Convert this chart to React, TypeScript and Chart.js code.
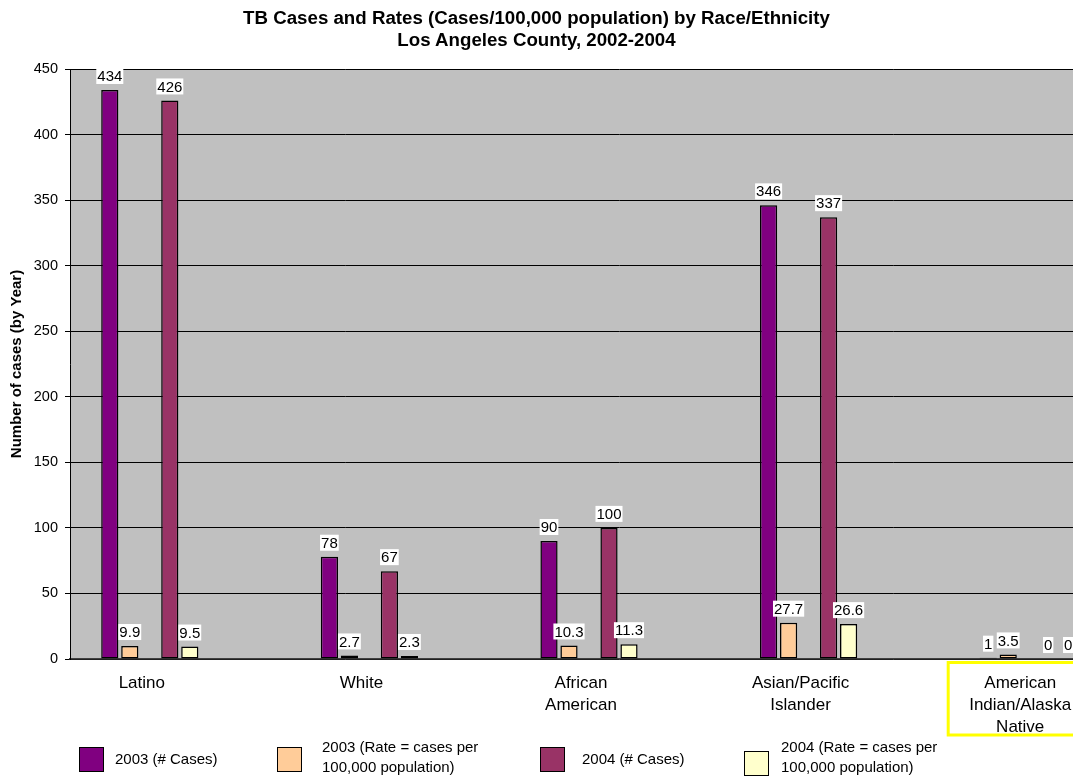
import React, { useEffect, useRef } from 'react';
import { Chart, registerables } from 'chart.js';

Chart.register(...registerables);

// ---------- data ----------
const categories: (string | string[])[] = [
  'Latino',
  'White',
  ['African', 'American'],
  ['Asian/Pacific', 'Islander'],
  ['American', 'Indian/Alaska', 'Native'],
];
const cases2003 = [434, 78, 90, 346, 1];
const rate2003 = [9.9, 2.7, 10.3, 27.7, 3.5];
const cases2004 = [426, 67, 100, 337, 0];
const rate2004 = [9.5, 2.3, 11.3, 26.6, 0];

const yMin = 0;
const yMax = 450;
const yStep = 50;

const seriesNames: string[][] = [
  ['2003 (# Cases)'],
  ['2003 (Rate = cases per', '100,000 population)'],
  ['2004 (# Cases)'],
  ['2004 (Rate = cases per', '100,000 population)'],
];
const seriesColors = ['#800080', '#FFCC99', '#993366', '#FFFFCC'];

const titleLines = [
  'TB Cases and Rates (Cases/100,000 population) by Race/Ethnicity',
  'Los Angeles County, 2002-2004',
];
const yTitle = 'Number of cases (by Year)';

// ---------- layout / style ----------
const FONT = '"Liberation Sans", Arial, Helvetica, sans-serif';
const CANVAS_W = 1168;
const CANVAS_H = 777;
const LABEL_OFFSET = -38;
const legendBoxLeft = [79, 277, 540, 744];
const legendTextLeft = [115, 322, 582, 781];

const emptySlot = categories.map(() => null);

const plotBg = {
  id: 'plotBg',
  beforeDraw(chart: any) {
    const { ctx, chartArea: a } = chart;
    ctx.save();
    ctx.fillStyle = '#C0C0C0';
    ctx.fillRect(a.left, a.top, a.right - a.left, a.bottom - a.top);
    ctx.restore();
  },
};

const valueLabels = {
  id: 'valueLabels',
  afterDatasetsDraw(chart: any) {
    const ctx = chart.ctx;
    ctx.save();
    ctx.font = `15px ${FONT}`;
    ctx.textAlign = 'center';
    ctx.textBaseline = 'middle';
    chart.data.datasets.forEach((ds: any, i: number) => {
      if (ds.spacer) return;
      const meta = chart.getDatasetMeta(i);
      meta.data.forEach((el: any, j: number) => {
        const v = ds.data[j];
        if (v === null || v === undefined) return;
        const txt = String(v);
        const w = ctx.measureText(txt).width;
        const cy = el.y - 14;
        ctx.fillStyle = '#FFFFFF';
        ctx.fillRect(el.x - w / 2 - 1, cy - 8, w + 2, 16);
        ctx.fillStyle = '#000000';
        ctx.fillText(txt, el.x, cy + 1);
      });
    });
    ctx.restore();
  },
};

const highlightLast = {
  id: 'highlightLast',
  afterDraw(chart: any) {
    const xs = chart.scales.x;
    const ctx = chart.ctx;
    const cx = xs.getPixelForTick(categories.length - 1) + LABEL_OFFSET;
    ctx.save();
    ctx.strokeStyle = '#FFFF00';
    ctx.lineWidth = 3;
    ctx.strokeRect(cx - 72, xs.top + 3.5, 146, 72.5);
    ctx.restore();
  },
};

export default function App() {
  const ref = useRef<HTMLCanvasElement | null>(null);

  useEffect(() => {
    if (!ref.current) return;
    const mk = (label: string, data: number[], color: string) => ({
      label,
      data,
      backgroundColor: color,
      borderColor: '#000000',
      borderWidth: 1.5,
      borderSkipped: false,
    });
    const spacer = (n: number) => ({
      label: 'spacer' + n,
      data: emptySlot,
      spacer: true,
      backgroundColor: 'rgba(0,0,0,0)',
    });
    const chart = new Chart(ref.current, {
      type: 'bar',
      data: {
        labels: categories,
        datasets: [
          mk(seriesNames[0].join(' '), cases2003, seriesColors[0]),
          mk(seriesNames[1].join(' '), rate2003, seriesColors[1]),
          spacer(1) as any,
          mk(seriesNames[2].join(' '), cases2004, seriesColors[2]),
          mk(seriesNames[3].join(' '), rate2004, seriesColors[3]),
          spacer(2) as any,
          spacer(3) as any,
          spacer(4) as any,
        ],
      },
      options: {
        animation: false,
        responsive: false,
        maintainAspectRatio: false,
        devicePixelRatio: 1,
        datasets: {
          bar: {
            categoryPercentage: 160 / ((CANVAS_W - 70) / 5),
            barPercentage: 0.86,
          },
        },
        layout: { padding: { top: 69, left: 0, right: 0, bottom: 0 } },
        plugins: {
          legend: { display: false },
          title: { display: false },
          tooltip: { enabled: false },
        },
        scales: {
          x: {
            type: 'category',
            offset: true,
            grid: { display: false, drawTicks: false },
            border: { display: true, color: '#404040', width: 1.5 },
            ticks: {
              color: '#000000',
              font: { family: FONT, size: 17, lineHeight: '22px' },
              padding: 13,
              labelOffset: LABEL_OFFSET,
              autoSkip: false,
              maxRotation: 0,
              minRotation: 0,
            },
            afterFit(scale: any) {
              scale.height = CANVAS_H - 659;
            },
          },
          y: {
            min: yMin,
            max: yMax,
            ticks: {
              stepSize: yStep,
              color: '#000000',
              font: { family: FONT, size: 14.5 },
              padding: 7,
            },
            grid: {
              color: '#000000',
              lineWidth: 1,
              drawTicks: true,
              tickLength: 5,
              tickColor: '#000000',
            },
            border: { display: true, color: '#000000', width: 1 },
            title: {
              display: true,
              text: yTitle,
              color: '#000000',
              font: { family: FONT, size: 15, weight: 'bold' },
              padding: { top: 8, bottom: 0 },
            },
            afterFit(scale: any) {
              scale.width = 70;
            },
          },
        },
      } as any,
      plugins: [plotBg, valueLabels, highlightLast],
    });
    return () => chart.destroy();
  }, []);

  return (
    <div
      style={{
        position: 'absolute',
        left: 0,
        top: 0,
        width: 1073,
        height: 777,
        overflow: 'hidden',
        background: '#FFFFFF',
        fontFamily: FONT,
      }}
    >
      <canvas
        ref={ref}
        width={CANVAS_W}
        height={CANVAS_H}
        style={{ position: 'absolute', left: 0, top: 0, width: CANVAS_W, height: CANVAS_H }}
      />
      <div
        style={{
          position: 'absolute',
          left: 0,
          top: 7,
          width: 1073,
          textAlign: 'center',
          fontWeight: 'bold',
          fontSize: 18.7,
          lineHeight: '22px',
          color: '#000',
        }}
      >
        {titleLines.map((t, i) => (
          <div key={i}>{t}</div>
        ))}
      </div>
      {seriesNames.map((lines, i) => (
        <React.Fragment key={i}>
          <div
            style={{
              position: 'absolute',
              left: legendBoxLeft[i],
              top: i === 3 ? 751 : 747,
              width: 23,
              height: 23,
              background: seriesColors[i],
              border: '1px solid #000',
            }}
          />
          <div
            style={{
              position: 'absolute',
              left: legendTextLeft[i],
              top: lines.length > 1 ? 737 : 749,
              fontSize: 15,
              lineHeight: '20px',
              color: '#000',
              whiteSpace: 'nowrap',
            }}
          >
            {lines.map((l, k) => (
              <div key={k}>{l}</div>
            ))}
          </div>
        </React.Fragment>
      ))}
    </div>
  );
}
